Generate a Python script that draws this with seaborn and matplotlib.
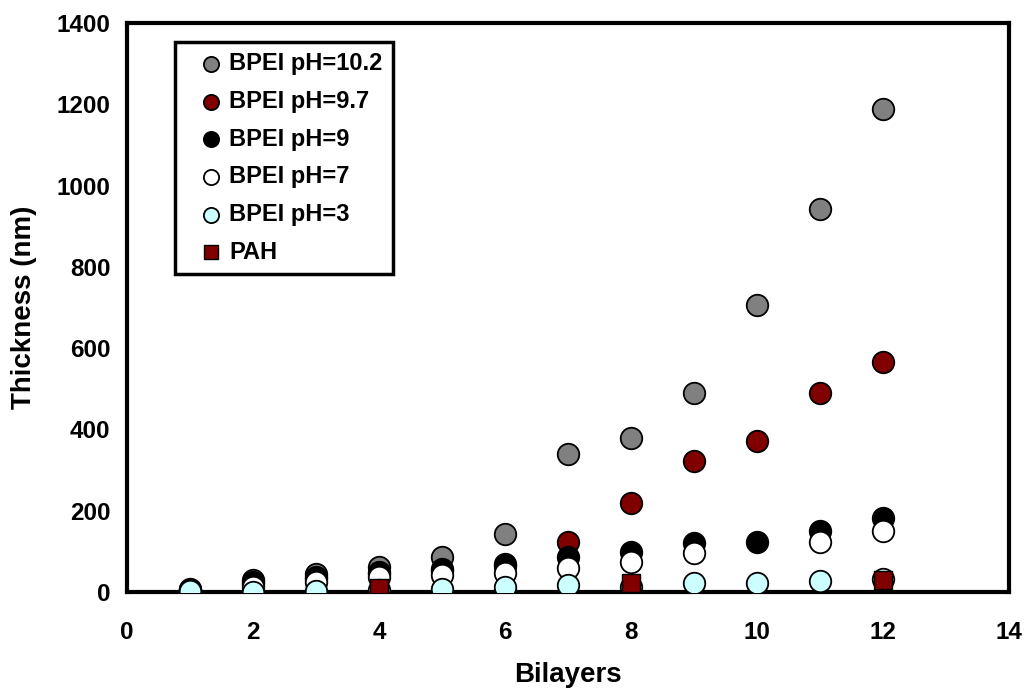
import numpy as np
import pandas as pd
import matplotlib
matplotlib.use("Agg")
import matplotlib.pyplot as plt
import seaborn as sns

bilayers = [1, 2, 3, 4, 5, 6, 7, 8, 9, 10, 11, 12]
bpei_102 = [8, 30, 45, 62, 85, 142, 340, 378, 490, 706, 943, 1188]
bpei_97 = [6, 20, 32, 45, 52, 65, 122, 218, 323, 372, 490, 565]
bpei_9 = [6, 25, 38, 50, 57, 70, 87, 98, 120, 122, 149, 182]
bpei_7 = [4, 12, 25, 38, 42, 46, 58, 74, 97, np.nan, 124, 150]
bpei_3 = [3, 1, 3, 5, 7, 13, 17, 13, 21, 22, 26, 31]
pah_x = [4, 8, 12]
pah_y = [9, 22, 30]

labels = ["BPEI pH=10.2", "BPEI pH=9.7", "BPEI pH=9", "BPEI pH=7", "BPEI pH=3", "PAH"]
colors = ["#808080", "#800000", "#000000", "#FFFFFF", "#CCFFFF", "#800000"]

sns.set_style("white")
plt.rcParams['font.family'] = ['Liberation Sans', 'DejaVu Sans']
plt.rcParams['font.weight'] = 'bold'
plt.rcParams['text.color'] = 'black'
plt.rcParams['axes.labelcolor'] = 'black'
plt.rcParams['xtick.color'] = 'black'
plt.rcParams['ytick.color'] = 'black'

fig = plt.figure(figsize=(10.26, 6.91), dpi=100)
ax = fig.add_axes([0.1238, 0.1433, 0.8596, 0.8234])

series = [bpei_102, bpei_97, bpei_9, bpei_7, bpei_3]
for vals, lab, col in zip(series, labels[:5], colors[:5]):
    df = pd.DataFrame({"x": bilayers, "y": vals}).dropna()
    sns.scatterplot(data=df, x="x", y="y", ax=ax, color=col, marker="o", s=240,
                    edgecolor="black", linewidth=1.3, label=lab, zorder=3)
dfp = pd.DataFrame({"x": pah_x, "y": pah_y})
sns.scatterplot(data=dfp, x="x", y="y", ax=ax, color=colors[5], marker="s", s=150,
                edgecolor="black", linewidth=1.0, label=labels[5], zorder=4)

ax.set_xlim(0, 14)
ax.set_ylim(0, 1400)
ax.set_xticks(range(0, 15, 2))
ax.set_yticks(range(0, 1401, 200))
ax.tick_params(axis='both', labelsize=17.5, direction='in', length=5, width=2)
ax.tick_params(axis='x', length=0, pad=21)
ax.tick_params(axis='y', pad=12)
for lbl in ax.get_xticklabels() + ax.get_yticklabels():
    lbl.set_fontweight('bold')
ax.set_xlabel("Bilayers", fontsize=20, fontweight='bold', labelpad=13)
ax.set_ylabel("Thickness (nm)", fontsize=20, fontweight='bold', labelpad=14)
for sp in ax.spines.values():
    sp.set_linewidth(3)
    sp.set_color('black')

leg = ax.legend(loc='upper left', bbox_to_anchor=(0.054, 0.967), borderaxespad=0,
                fontsize=17, frameon=True, fancybox=False, framealpha=1.0,
                handletextpad=-0.35, labelspacing=0.62, borderpad=0.45,
                handlelength=2.2)
leg.get_frame().set_edgecolor('black')
leg.get_frame().set_linewidth(2.5)
for i, h in enumerate(leg.legend_handles):
    h.set_sizes([120] if i < 5 else [110])
for t in leg.get_texts():
    t.set_fontweight('bold')

fig.savefig("out.png", dpi=100)
